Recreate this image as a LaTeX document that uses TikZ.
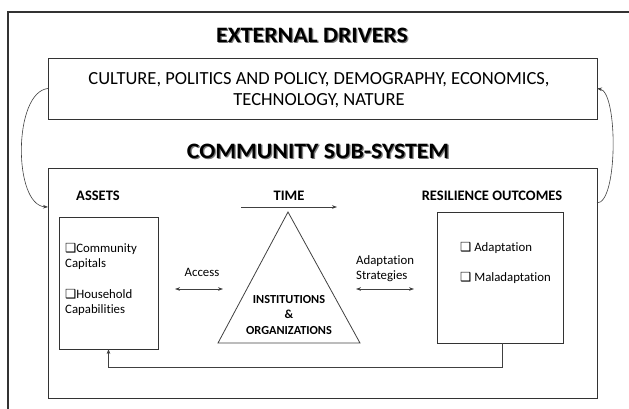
\documentclass[tikz,border=0pt]{standalone}
\usepackage{fontspec}
\setmainfont{Carlito}[Ligatures=NoCommon]
\newfontfamily\symfont{DejaVu Sans}
\usetikzlibrary{arrows.meta}
% drop-shadowed check box used in the item lists
\newcommand\tick{{\symfont\fontsize{12.5}{12.5}\selectfont\char"2751}}
% heading text with a soft grey shadow
\newcommand\shadowed[1]{%
  \makebox[0pt][l]{\kern1.4pt\raisebox{-1.4pt}{\color{black!35}#1}}%
  \makebox[0pt][l]{\kern0.8pt\raisebox{-0.8pt}{\color{black!55}#1}}#1}
\begin{document}
\begin{tikzpicture}[x=1pt,y=-1pt,
  frame/.style={draw=black!80,line width=1.2pt},
  panel/.style={draw=black!80,line width=0.8pt,inner sep=0pt,outer sep=0pt},
  headline/.style={font=\bfseries\fontsize{22}{22}\selectfont,xscale=1.08},
  label/.style={font=\bfseries\fontsize{14.5}{16}\selectfont},
  body/.style={font=\fontsize{12.8}{15}\selectfont},
  link/.style={draw=black!75,line width=0.6pt,-{Stealth[length=5pt,width=3.6pt]}},
  twoway/.style={draw=black!75,line width=0.6pt,{Stealth[length=5pt,width=3.6pt]}-{Stealth[length=5pt,width=3.6pt]}}
]
\useasboundingbox (0,0) rectangle (629,409);

% outer frame (open on the right and bottom)
\draw[frame] (8,409) -- (8,12) -- (629,12);

% titles
\node[headline] (ttl1) at (312,36) {\shadowed{EXTERNAL DRIVERS}};
\node[headline] (ttl2) at (318,152) {\shadowed{COMMUNITY SUB-SYSTEM}};

% external drivers
\node[panel,minimum width=549pt,minimum height=61pt] (drv) at (322.5,88.5) {};
\node[font=\fontsize{18.5}{21.5}\selectfont,align=center] (drvtxt) at (319,90)
  {CULTURE, POLITICS AND POLICY, DEMOGRAPHY, ECONOMICS,\\TECHNOLOGY, NATURE};

% community sub-system
\node[panel,minimum width=549pt,minimum height=230pt] (com) at (322.5,283) {};

\node[label] (assetsl) at (98,196) {ASSETS};
\node[label] (timel) at (289,196) {TIME};
\node[label] (resl) at (492,196) {RESILIENCE OUTCOMES};

\node[panel,minimum width=99pt,minimum height=132pt] (assets) at (108.5,283) {};
\node[body,align=left,anchor=north west,inner sep=0pt] (assetstxt) at (65,243)
  {\tick Community\\Capitals\\[16pt]\tick Household\\Capabilities};

\node[panel,minimum width=126pt,minimum height=131pt] (res) at (500,277.5) {};
\node[body,align=left,anchor=north west,inner sep=0pt] (restxt) at (460,242)
  {\tick\ Adaptation\\[15pt]\tick\ Maladaptation};

% institutions triangle
\coordinate (apex) at (288,212);
\coordinate (bl) at (218,343);
\coordinate (br) at (360,343);
\draw[draw=black!75,line width=0.8pt] (apex) -- (br) -- (bl) -- cycle;
\node[font=\bfseries\fontsize{12.3}{15.5}\selectfont,align=center] (inst) at (289,315)
  {INSTITUTIONS\\\&\\ORGANIZATIONS};

% time arrow
\coordinate (t0) at (241,207);
\coordinate (t1) at (337,207);
\draw[link] (t0) -- (t1);

% access
\node[body] (accl) at (202,272) {Access};
\coordinate (a0) at (175,289);
\coordinate (a1) at (223,289);
\draw[twoway] (a0) -- (a1);

% adaptation strategies
\node[body,align=left,anchor=west,inner sep=0pt] (strl) at (356,269) {Adaptation\\Strategies};
\coordinate (s0) at (356,289);
\coordinate (s1) at (414,289);
\draw[twoway] (s0) -- (s1);

% feedback from outcomes to assets
\coordinate (fb) at (502,367);
\draw[link] ([xshift=2pt]res.south) -- (fb) -| (assets.south);

% loops between drivers and sub-system
\coordinate (comin) at (48,207);
\coordinate (comout) at (597,203);
\draw[link] (drv.west) .. controls (13,92) and (13,205) .. (comin);
\draw[link] (comout) .. controls (618,203) and (618,92) .. (drv.east);
\end{tikzpicture}
\end{document}
